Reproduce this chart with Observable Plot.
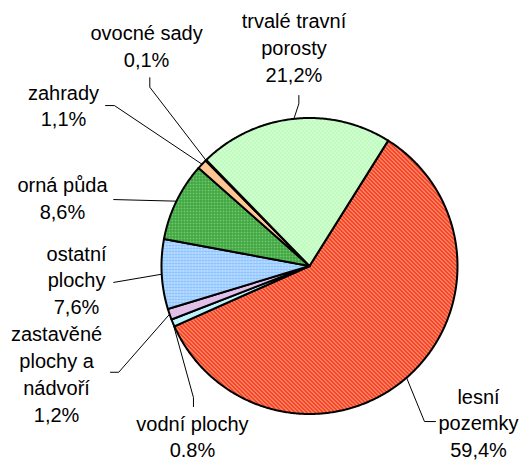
<!DOCTYPE html>
<html><head><meta charset="utf-8">
<script src="https://cdn.jsdelivr.net/npm/d3@7"></script>
<script src="https://cdn.jsdelivr.net/npm/@observablehq/plot@0.6"></script>
<style>body{margin:0;background:#fff}</style>
</head><body><div id="chart"></div>
<script>
// ---- data (clockwise order from the first slice) ----
const categories = ["lesní pozemky","vodní plochy","zastavěné plochy a nádvoří","ostatní plochy","orná půda","zahrady","ovocné sady","trvalé travní porosty"];
const shares = [59.4, 0.8, 1.2, 7.6, 8.6, 1.1, 0.1, 21.2];
const valueLabels = ["59,4%","0.8%","1,2%","7,6%","8,6%","1,1%","0,1%","21,2%"];
const labelLines = [["lesní","pozemky"],["vodní plochy"],["zastavěné","plochy a","nádvoří"],["ostatní","plochy"],["orná půda"],["zahrady"],["ovocné sady"],["trvalé travní","porosty"]];

// ---- layout (pie radius = 1 unit) ----
const W = 528, H = 463, R = 148, CX = 309, CY = 265.5;
const startAngleDeg = 32.1;
const lineStep = 26.8 / R;
// label centre x and first baseline y
const labelAnchor = [[1.142,-0.930],[-0.791,-1.112],[-1.709,-0.510],[-1.574,0.037],[-1.669,0.497],[-1.662,1.125],[-1.101,1.524],[-0.105,1.605]];
const leaderElbow = [[0.777,-1.051],[-0.784,-0.889],[-1.289,-0.718],[-1.324,-0.111],[-1.324,0.449],[-1.318,1.084],[-1.079,1.208],[-0.072,1.096]];
const leaderEnd   = [[0.851,-1.051],[-0.784,-0.950],[-1.345,-0.718],[-1.324,-0.111],[-1.324,0.449],[-1.378,1.084],[-1.079,1.272],[-0.072,1.152]];
const patternIds = ["p0","p1","p2","p3","p4","p5","p6","p7"];

// ---- geometry from data ----
const total = d3.sum(shares);
let acc = startAngleDeg;
const slices = shares.map((v, i) => {
  const a0 = acc, a1 = acc + v / total * 360; acc = a1;
  return {i, a0, a1, mid: (a0 + a1) / 2};
});
const rad = d => d * Math.PI / 180;
const slicePts = [];
for (const s of slices) {
  slicePts.push({k: s.i, x: 0, y: 0});
  const n = Math.max(2, Math.ceil((s.a1 - s.a0) / 0.5));
  for (let j = 0; j <= n; j++) {
    const a = rad(s.a0 + (s.a1 - s.a0) * j / n);
    slicePts.push({k: s.i, x: Math.sin(a), y: Math.cos(a)});
  }
}
const leaderPts = [];
slices.forEach(s => {
  const a = rad(s.mid);
  leaderPts.push({k: s.i, x: Math.sin(a), y: Math.cos(a)});
  leaderPts.push({k: s.i, x: leaderElbow[s.i][0], y: leaderElbow[s.i][1]});
  leaderPts.push({k: s.i, x: leaderEnd[s.i][0], y: leaderEnd[s.i][1]});
});
const textRows = [];
labelLines.forEach((lines, i) => {
  const all = [...lines, valueLabels[i]];
  all.forEach((t, j) => textRows.push({x: labelAnchor[i][0], y: labelAnchor[i][1] - j * lineStep, t}));
});

const chart = Plot.plot({
  width: W, height: H,
  margin: 0,
  x: {domain: [-CX / R, (W - CX) / R], axis: null},
  y: {domain: [(CY - H) / R, CY / R], axis: null},
  color: {type: "identity"},
  marks: [
    Plot.line(slicePts, {x: "x", y: "y", z: "k", curve: "linear-closed",
      fill: d => `url(#${patternIds[d.k]})`, stroke: "black", strokeWidth: 2, strokeLinejoin: "round"}),
    Plot.line(leaderPts, {x: "x", y: "y", z: "k", stroke: "black", strokeWidth: 1}),
    Plot.text(textRows, {x: "x", y: "y", text: "t", textAnchor: "middle", lineAnchor: "bottom",
      fontSize: 20, fontFamily: "Liberation Sans, Arial, sans-serif", fill: "black"})
  ]
});

// patterns
const defs = d3.select(chart).insert("defs", ":first-child");
function pat(id, size, bg, rects, fg) {
  const p = defs.append("pattern").attr("id", id).attr("patternUnits", "userSpaceOnUse")
    .attr("width", size).attr("height", size);
  p.append("rect").attr("width", size).attr("height", size).attr("fill", bg);
  rects.forEach(r => p.append("rect").attr("x", r[0]).attr("y", r[1]).attr("width", r[2]).attr("height", r[3]).attr("fill", fg));
}
pat("p0", 4, "#f22a10", [[0,0,2,1],[1,1,2,1],[2,2,2,1],[3,3,1,1],[0,3,1,1]], "#ff9a78");
pat("p1", 2, "#c4f6ff", [[0,0,1,1]], "#a8eef8");
pat("p2", 2, "#e4c6ec", [[0,0,1,1]], "#d2aede");
pat("p3", 3, "#92c6ff", [[0,0,1,1],[2,0,1,1]], "#e6f2ff");
pat("p4", 3, "#3a9a3a", [[0,0,2,2]], "#6ccc6c");
pat("p5", 2, "#ffc898", [[0,0,1,1]], "#ffbb88");
pat("p6", 2, "#ffff99", [[0,0,1,1]], "#ffff99");
pat("p7", 4, "#ccffcc", [[0,0,1,1],[2,2,1,1]], "#a4eaa4");

document.getElementById("chart").appendChild(chart);
</script>
</body></html>
